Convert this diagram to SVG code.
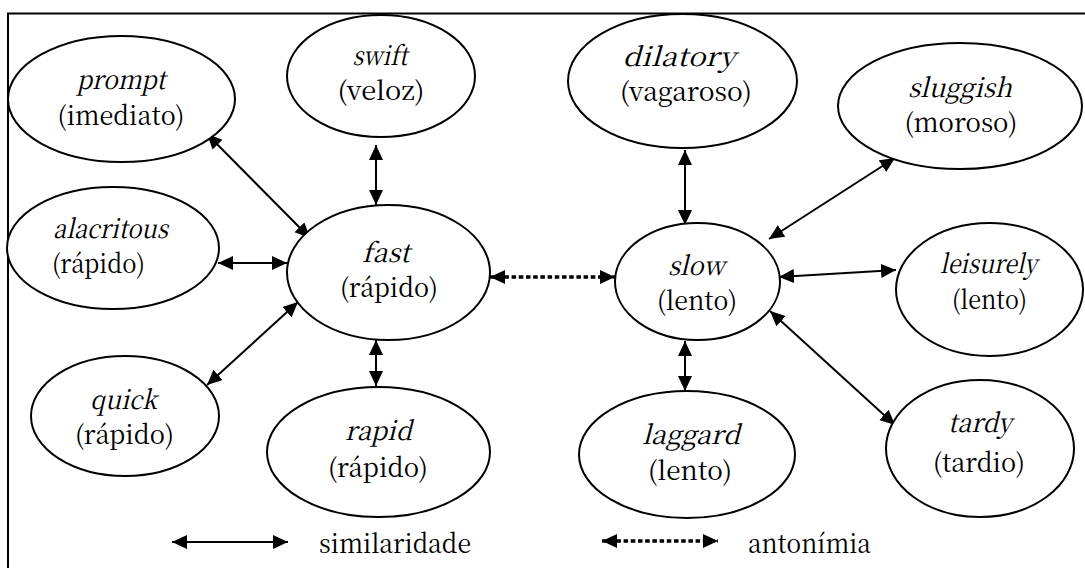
<svg xmlns="http://www.w3.org/2000/svg" width="1085" height="568" viewBox="0 0 1085 568">
<defs>
<style>
.node ellipse{fill:#fff;stroke:#000;stroke-width:2}
.t{font-family:"Noto Serif CJK SC","Liberation Serif",serif;font-size:26px;fill:#000}
.w{font-style:italic}
.c{text-anchor:middle}
.sim{stroke:#000;stroke-width:2;fill:none;marker-start:url(#ah);marker-end:url(#ah)}
.ant{stroke:#000;stroke-width:3.5;stroke-dasharray:4.5 2.7;fill:none;marker-start:url(#ah2);marker-end:url(#ah2)}
</style>
<marker id="ah" markerUnits="userSpaceOnUse" markerWidth="16" markerHeight="15" refX="15" refY="7" orient="auto-start-reverse">
<path d="M0,0 L15,7 L0,14 z" fill="#000"/>
</marker>
<marker id="ah2" markerUnits="userSpaceOnUse" markerWidth="16" markerHeight="15" refX="15" refY="7" orient="auto-start-reverse">
<path d="M0,0 L15,7 L0,14 z" fill="#000"/>
</marker>
</defs>
<rect x="8" y="13.5" width="1100" height="600" fill="#fff" stroke="#000" stroke-width="2"/>
<g id="connectors">
<line class="sim" x1="207" y1="134" x2="310" y2="238"/>
<line class="sim" x1="376" y1="145" x2="376" y2="205"/>
<line class="sim" x1="218" y1="263" x2="287" y2="263"/>
<line class="sim" x1="207" y1="385" x2="298" y2="302"/>
<line class="sim" x1="376" y1="340" x2="376" y2="386"/>
<line class="ant" x1="490" y1="277" x2="615" y2="277"/>
<line class="sim" x1="685" y1="150" x2="685" y2="225"/>
<line class="sim" x1="685" y1="341" x2="685" y2="391"/>
<line class="sim" x1="895" y1="158" x2="769" y2="239"/>
<line class="sim" x1="896" y1="270" x2="779" y2="277"/>
<line class="sim" x1="895" y1="425" x2="770" y2="311"/>
</g>
<g id="node-prompt" class="node"><ellipse cx="121.5" cy="99" rx="113.5" ry="63"/><text class="t c"><tspan class="w" x="121" y="89" textLength="89" lengthAdjust="spacingAndGlyphs">prompt</tspan><tspan x="121" y="125" textLength="127" lengthAdjust="spacingAndGlyphs">(imediato)</tspan></text></g>
<g id="node-swift" class="node"><ellipse cx="381" cy="76" rx="94" ry="61"/><text class="t c"><tspan class="w" x="380" y="65" textLength="55" lengthAdjust="spacingAndGlyphs">swift</tspan><tspan x="381" y="100" textLength="87" lengthAdjust="spacingAndGlyphs">(veloz)</tspan></text></g>
<g id="node-dilatory" class="node"><ellipse cx="682.5" cy="81" rx="114.5" ry="67"/><text class="t c"><tspan class="w" x="679" y="66" textLength="113" lengthAdjust="spacingAndGlyphs">dilatory</tspan><tspan x="686" y="101" textLength="132" lengthAdjust="spacingAndGlyphs">(vagaroso)</tspan></text></g>
<g id="node-sluggish" class="node"><ellipse cx="960" cy="106" rx="122" ry="63"/><text class="t c"><tspan class="w" x="960" y="97" textLength="104" lengthAdjust="spacingAndGlyphs">sluggish</tspan><tspan x="961" y="132" textLength="113" lengthAdjust="spacingAndGlyphs">(moroso)</tspan></text></g>
<g id="node-alacritous" class="node"><ellipse cx="113" cy="248" rx="106" ry="61"/><text class="t c"><tspan class="w" x="110.5" y="238" textLength="115" lengthAdjust="spacingAndGlyphs">alacritous</tspan><tspan x="98.5" y="273" textLength="93" lengthAdjust="spacingAndGlyphs">(rápido)</tspan></text></g>
<g id="node-quick" class="node"><ellipse cx="125" cy="416" rx="94" ry="60"/><text class="t c"><tspan class="w" x="123.5" y="409" textLength="67" lengthAdjust="spacingAndGlyphs">quick</tspan><tspan x="124.5" y="444" textLength="99" lengthAdjust="spacingAndGlyphs">(rápido)</tspan></text></g>
<g id="node-fast" class="node"><ellipse cx="388.5" cy="272.5" rx="101.5" ry="67.5"/><text class="t c"><tspan class="w" x="386" y="262" textLength="48" lengthAdjust="spacingAndGlyphs">fast</tspan><tspan x="389" y="297" textLength="98" lengthAdjust="spacingAndGlyphs">(rápido)</tspan></text></g>
<g id="node-rapid" class="node"><ellipse cx="378.5" cy="452" rx="111.5" ry="65"/><text class="t c"><tspan class="w" x="378.5" y="440" textLength="67" lengthAdjust="spacingAndGlyphs">rapid</tspan><tspan x="378" y="477" textLength="100" lengthAdjust="spacingAndGlyphs">(rápido)</tspan></text></g>
<g id="node-slow" class="node"><ellipse cx="697.5" cy="281.5" rx="82.5" ry="58.5"/><text class="t c"><tspan class="w" x="696.5" y="275" textLength="57" lengthAdjust="spacingAndGlyphs">slow</tspan><tspan x="697" y="310" textLength="80" lengthAdjust="spacingAndGlyphs">(lento)</tspan></text></g>
<g id="node-laggard" class="node"><ellipse cx="687" cy="454.5" rx="108" ry="63.5"/><text class="t c"><tspan class="w" x="691" y="444" textLength="98" lengthAdjust="spacingAndGlyphs">laggard</tspan><tspan x="690" y="480" textLength="84" lengthAdjust="spacingAndGlyphs">(lento)</tspan></text></g>
<g id="node-leisurely" class="node"><ellipse cx="989.5" cy="289.5" rx="93.5" ry="66.5"/><text class="t c"><tspan class="w" x="988.5" y="273" textLength="97" lengthAdjust="spacingAndGlyphs">leisurely</tspan><tspan x="989.5" y="309" textLength="75" lengthAdjust="spacingAndGlyphs">(lento)</tspan></text></g>
<g id="node-tardy" class="node"><ellipse cx="980" cy="448.5" rx="94" ry="68.5"/><text class="t c"><tspan class="w" x="980" y="432" textLength="64" lengthAdjust="spacingAndGlyphs">tardy</tspan><tspan x="979" y="472" textLength="92" lengthAdjust="spacingAndGlyphs">(tardio)</tspan></text></g>
<g id="legend">
<line class="sim" x1="172" y1="542" x2="288" y2="542"/>
<text class="t" x="319" y="553" textLength="152" lengthAdjust="spacingAndGlyphs">similaridade</text>
<line class="ant" x1="602" y1="541" x2="718" y2="541"/>
<text class="t" x="748" y="553" textLength="123" lengthAdjust="spacingAndGlyphs">antonímia</text>
</g>
</svg>
